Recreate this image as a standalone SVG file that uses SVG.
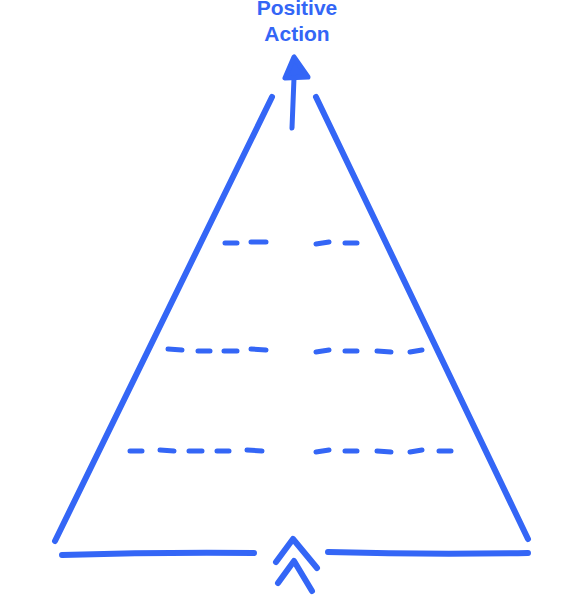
<svg xmlns="http://www.w3.org/2000/svg" width="583" height="596" viewBox="0 0 583 596">
<style>
.s{fill:none;stroke:#3466f6;stroke-linecap:round;stroke-linejoin:round}
.m{stroke-width:6}
.d{stroke-width:5}
.f{fill:#3466f6}
.t{font-family:"Liberation Sans",Arial,sans-serif;font-weight:bold;font-size:21px;fill:#3466f6;text-anchor:middle}
</style>
<rect width="583" height="596" fill="#ffffff"/>
<g id="label">
<text class="t" x="297" y="15">Positive</text>
<text class="t" x="297" y="41">Action</text>
</g>
<g id="pyramid">
<path class="s m" d="M272 97 L55 541"/>
<path class="s m" d="M316 97 L528 539"/>
<path class="s m" d="M62 555 Q160 552 254 553"/>
<path class="s m" d="M328 552 Q430 555 528 553"/>
</g>
<g id="arrow">
<path class="s d" d="M292 128 L294 78"/>
<path class="s d f" d="M294 57 L285 78 L308 77 Z"/>
</g>
<g id="chevrons">
<path class="s m" d="M276 562 L293 539 L317 568"/>
<path class="s m" d="M278 583 L294 561 L312 591"/>
</g>
<g id="dashes">
<path class="s d" d="M225 243 H237 M251 242 H266 M316 244 L329 242 M345 243 H357"/>
<path class="s d" d="M168 349 L182 350 M198 351 H210 M224 351 H237 M251 349 L266 350 M316 352 L329 350 M345 351 H357 M377 351 L391 352 M410 352 L422 350"/>
<path class="s d" d="M130 451 H142 M160 450 L174 451 M189 451 H202 M217 451 H229 M247 450 L262 451 M316 452 L329 450 M345 451 H357 M377 451 L391 452 M410 452 L422 450 M439 451 H451"/>
</g>
</svg>
